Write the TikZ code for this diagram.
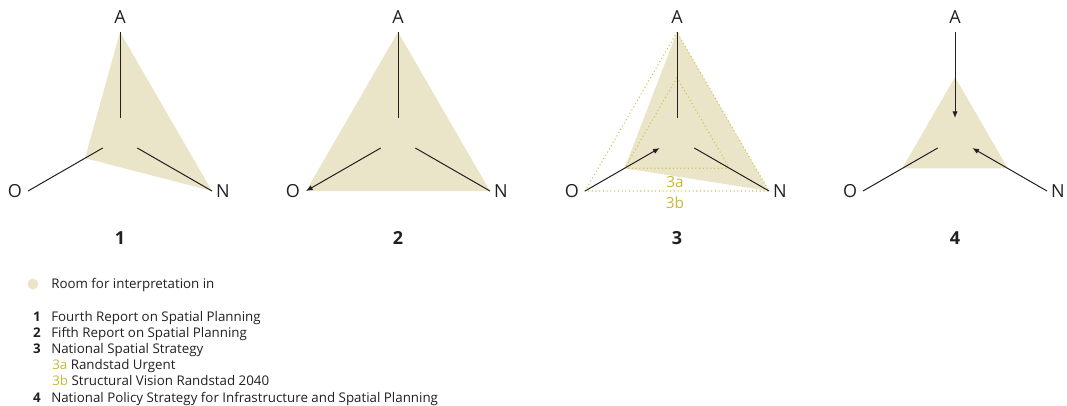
\documentclass[tikz,border=0pt]{standalone}
\usepackage{fontspec}
\setmainfont{Open Sans}
\usetikzlibrary{positioning,arrows.meta,calc}
\definecolor{roomfill}{RGB}{234,229,200}
\definecolor{planyellow}{RGB}{200,184,58}
\definecolor{axisdark}{RGB}{35,31,32}
\tikzset{
  axis/.style={draw=axisdark, line width=0.75pt},
  axisarr/.style={axis, -{Latex[length=5pt,width=4pt]}},
  room/.style={fill=roomfill, draw=none},
  version/.style={draw=planyellow!85, dotted, line width=0.8pt},
  pole/.style={font=\fontsize{13.5}{14}\selectfont, text=axisdark, inner sep=0pt},
  plannr/.style={font=\fontsize{13.5}{14}\selectfont\bfseries, text=axisdark, inner sep=0pt},
  vlbl/.style={font=\fontsize{11.5}{12}\selectfont, text=planyellow, inner sep=0pt},
  legnr/.style={font=\fontsize{10}{11}\selectfont\bfseries, text=axisdark, inner sep=0pt,
                text height=1.6ex, text depth=0.3ex},
  legtxt/.style={font=\fontsize{10}{11}\selectfont, text=axisdark, anchor=west, inner sep=0pt,
                 text height=1.6ex, text depth=0.3ex}
}

\begin{document}
\begin{tikzpicture}[x=0.75pt, y=-0.75pt]
  \useasboundingbox (0,0) rectangle (1067,405);
  % axes and labels of the four diagrams
  \foreach \i/\cx in {1/120,2/398,3/677,4/955}{
    \coordinate (c\i) at (\cx,138);
    \coordinate (a\i) at (\cx,32);
    \coordinate (ai\i) at (\cx,118);
    \coordinate (o\i) at (\cx-92,191);
    \coordinate (oi\i) at (\cx-17.3,148);
    \coordinate (n\i) at (\cx+92,191);
    \coordinate (ni\i) at (\cx+17.3,148);
    \node[pole] (la\i) at (\cx,17) {A};
    \node[pole] (lo\i) at (\cx-105,191) {O};
    \node[pole] (ln\i) at (\cx+103,191) {N};
    \node[plannr] (nr\i) at (\cx,238) {\i};
  }
  % room for interpretation
  \fill[room] (a1) -- ($(c1)!0.38!(o1)$) -- (n1) -- cycle;
  \fill[room] (a2) -- (o2) -- (n2) -- cycle;
  \fill[room] (a3) -- ($(c3)!0.57!(o3)$) -- (n3) -- cycle;
  \fill[room] ($(c4)!0.575!(a4)$) -- ($(c4)!0.575!(o4)$) -- ($(c4)!0.575!(n4)$) -- cycle;
  % 3a and 3b
  \draw[version] ($(c3)!0.57!(a3)$) -- ($(c3)!0.57!(o3)$) -- ($(c3)!0.57!(n3)$) -- cycle;
  \draw[version] (a3) -- (o3) -- (n3) -- cycle;
  \node[vlbl] (v3a) at (675,182) {3a};
  \node[vlbl] (v3b) at (675,203) {3b};
  % axes
  \draw[axis] (ai1) -- (a1);
  \draw[axis] (oi1) -- (o1);
  \draw[axis] (ni1) -- (n1);
  \draw[axis] (ai2) -- (a2);
  \draw[axisarr] (oi2) -- (o2);
  \draw[axis] (ni2) -- (n2);
  \draw[axis] (ai3) -- (a3);
  \draw[axisarr] (o3) -- (oi3);
  \draw[axis] (ni3) -- (n3);
  \draw[axisarr] (a4) -- (ai4);
  \draw[axis] (oi4) -- (o4);
  \draw[axisarr] (n4) -- (ni4);
  % legend
  \fill[roomfill] (33,284) circle (5.5);
  \node[legtxt] (leg0) at (51,284) {Room for interpretation in};
  \foreach \nr/\y/\txt in {1/317/Fourth Report on Spatial Planning,
                          2/333/Fifth Report on Spatial Planning,
                          3/349/National Spatial Strategy,
                          4/398/National Policy Strategy for Infrastructure and Spatial Planning}{
    \node[legnr] (lnr\nr) at (37,\y) {\nr};
    \node[legtxt] (ltx\nr) at (51,\y) {\txt};
  }
  \node[legtxt] (ltx3a) at (52,365) {\textcolor{planyellow}{3a} Randstad Urgent};
  \node[legtxt] (ltx3b) at (52,381) {\textcolor{planyellow}{3b} Structural Vision Randstad 2040};
\end{tikzpicture}
\end{document}
